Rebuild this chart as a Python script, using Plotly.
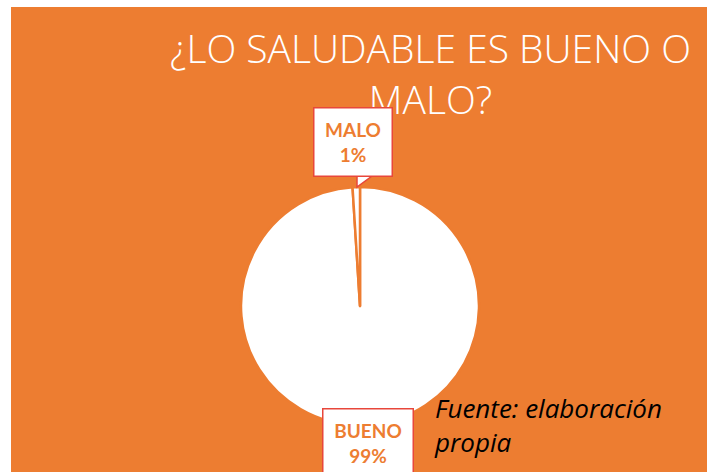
import plotly.graph_objects as go

W, H = 707, 472

labels = ["BUENO", "MALO"]
values = [99, 1]
pcts = ["99%", "1%"]

title_text = "¿LO SALUDABLE ES BUENO O<br>MALO?"
source_text = "Fuente: elaboración<br>propia"

ORANGE = "#ED7D31"
RED = "#E8473B"

def px(x):
    return x / W

def py(y):
    return 1 - y / H

cx, cy, r = 360, 306, 119

fig = go.Figure(go.Pie(
    labels=labels,
    values=values,
    sort=False,
    direction="clockwise",
    rotation=0,
    marker=dict(colors=["white", "white"], line=dict(color=ORANGE, width=2.5)),
    textinfo="none",
    hoverinfo="label+percent",
    showlegend=False,
    domain=dict(x=[px(cx - r), px(cx + r)], y=[py(cy + r), py(cy - r)]),
))

shapes = [
    dict(type="rect", xref="paper", yref="paper", x0=px(11), x1=1.05, y0=-0.05, y1=py(7),
         fillcolor=ORANGE, line=dict(width=0), layer="below"),
    # callout tail for MALO
    dict(type="path", xref="paper", yref="paper",
         path=f"M {px(357)} {py(176)} L {px(357)} {py(187)} L {px(372)} {py(176)} Z",
         fillcolor="white", line=dict(color=RED, width=1.5), layer="above"),
]

annotations = [
    dict(text=title_text, x=px(430), y=py(73), xref="paper", yref="paper",
         showarrow=False, xanchor="center", yanchor="middle",
         font=dict(family="Open Sans", size=39, color="white", weight=300)),
    dict(text=f"<b>{labels[1]}<br>{pcts[1]}</b>", x=px(352.5), y=py(142.5), xref="paper", yref="paper",
         showarrow=False, xanchor="center", yanchor="middle",
         width=75, height=65, bgcolor="white", bordercolor=RED, borderwidth=1.5, borderpad=1,
         font=dict(family="Lato", size=19, color=ORANGE)),
    dict(text=f"<b>{labels[0]}<br>{pcts[0]}</b>", x=px(367.5), y=py(443), xref="paper", yref="paper",
         showarrow=False, xanchor="center", yanchor="middle",
         width=87, height=65, bgcolor="white", bordercolor=RED, borderwidth=1.5, borderpad=1,
         font=dict(family="Lato", size=19, color=ORANGE)),
    dict(text=f"<i>{source_text}</i>", x=px(432), y=py(425), xref="paper", yref="paper",
         showarrow=False, xanchor="left", yanchor="middle", align="left",
         font=dict(family="Open Sans", size=26, color="black")),
]

fig.update_layout(
    width=W, height=H,
    margin=dict(l=0, r=0, t=0, b=0),
    paper_bgcolor="white",
    plot_bgcolor="white",
    shapes=shapes,
    annotations=annotations,
)

fig.write_html(
    "out.html",
    config={"displayModeBar": False},
    post_script="document.body.style.margin='0';document.body.style.overflow='hidden';",
)
